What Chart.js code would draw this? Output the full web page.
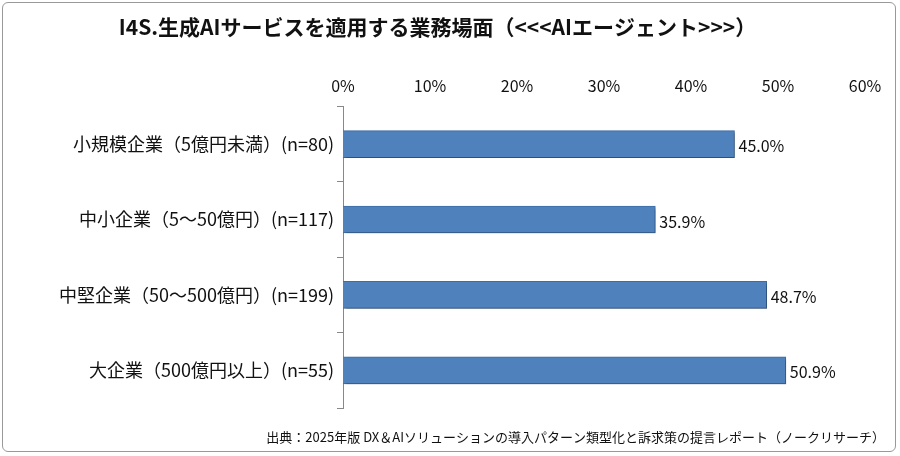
<!DOCTYPE html>
<html><head><meta charset="utf-8">
<script src="https://cdn.jsdelivr.net/npm/chart.js@4"></script>
<style>
html,body{margin:0;padding:0;background:#fff;}
#wrap{position:absolute;left:2px;top:2px;width:894px;height:450px;border:1px solid #999;border-radius:6px;box-sizing:border-box;}
canvas{position:absolute;left:0;top:0;}
</style></head>
<body>
<div id="wrap"></div>
<canvas id="c" width="900" height="456"></canvas>
<script>
const categories = ["小規模企業（5億円未満）(n=80)", "中小企業（5～50億円）(n=117)", "中堅企業（50～500億円）(n=199)", "大企業（500億円以上）(n=55)"];
const values = [45.0, 35.9, 48.7, 50.9];
const tickMax = 60;
const font = "'Noto Sans CJK JP', 'Noto Sans', sans-serif";

const extras = {
  id: "extras",
  beforeDatasetsDraw(chart) {
    const ctx = chart.ctx;
    ctx.save();
    ctx.shadowColor = "rgba(0,0,0,0.35)";
    ctx.shadowOffsetX = 2;
    ctx.shadowOffsetY = 2;
    ctx.shadowBlur = 3;
  },
  afterDatasetsDraw(chart) {
    const ctx = chart.ctx;
    ctx.restore();
    const meta = chart.getDatasetMeta(0);
    ctx.save();
    ctx.fillStyle = "#111";
    ctx.font = "16px " + font;
    ctx.textBaseline = "middle";
    meta.data.forEach((bar, i) => {
      ctx.fillText(values[i].toFixed(1) + "%", bar.x + 4, bar.y + 2);
    });
    ctx.font = "13px " + font;
    ctx.textAlign = "right";
    ctx.fillText("出典：2025年版 DX＆AIソリューションの導入パターン類型化と訴求策の提言レポート（ノークリサーチ）", 885, 437);
    ctx.restore();
  }
};

new Chart(document.getElementById("c"), {
  type: "bar",
  data: {
    labels: categories,
    datasets: [{
      data: values,
      backgroundColor: "#4F81BD",
      borderColor: "#3f6fa8",
      borderWidth: 1,
      barThickness: 27
    }]
  },
  options: {
    indexAxis: "y",
    responsive: false,
    animation: false,
    layout: { padding: { left: 10, right: 35, top: 0, bottom: 48 } },
    scales: {
      x: {
        position: "top",
        min: 0, max: tickMax,
        ticks: { stepSize: 10, color: "#111", font: { size: 16, family: font }, callback: v => v + "%" },
        grid: { display: false },
        border: { display: false }
      },
      y: {
        ticks: { color: "#111", font: { size: 18, family: font } },
        grid: { display: true, drawOnChartArea: false, offset: true, tickLength: 6, color: "#888" },
        border: { display: true, color: "#888" },
        afterFit: s => { s.width = 333; }
      }
    },
    plugins: {
      legend: { display: false },
      tooltip: { enabled: false },
      title: {
        display: true,
        text: "I4S.生成AIサービスを適用する業務場面（<<<AIエージェント>>>）",
        color: "#111",
        font: { size: 21, weight: "bold", family: font },
        padding: { top: 14, bottom: 34 }
      }
    }
  },
  plugins: [extras]
});
</script>
</body></html>
